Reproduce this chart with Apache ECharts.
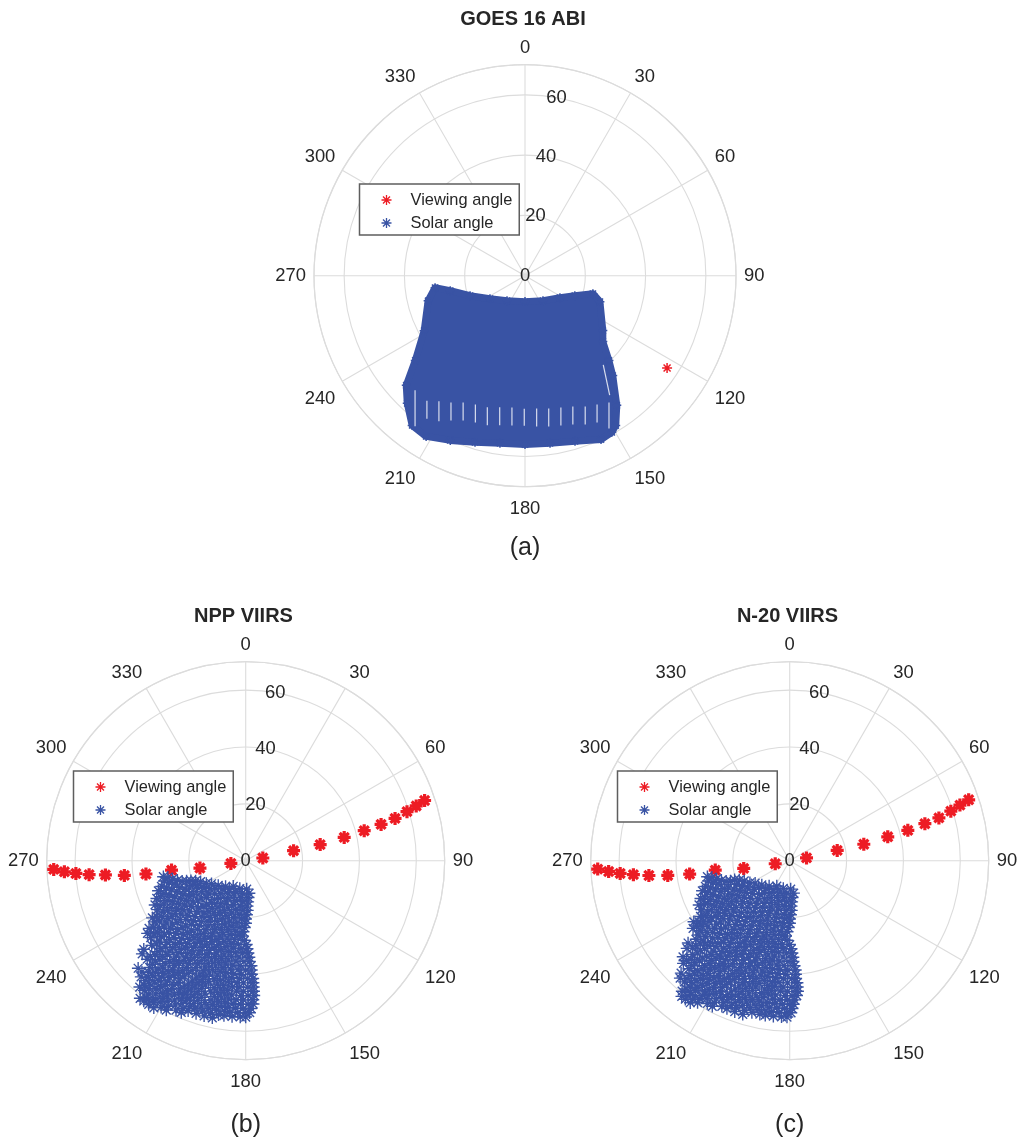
<!DOCTYPE html>
<html>
<head>
<meta charset="utf-8">
<style>html,body{margin:0;padding:0;background:#fff}#c{width:1017px;height:1137px}</style>
<script src="https://cdn.jsdelivr.net/npm/echarts@6/dist/echarts.min.js"></script>
</head>
<body>
<div id="c"></div>
<script>
// all points are [zenith angle, azimuth]
const radiusTicks = [0, 20, 40, 60];
const radiusMax = 70;
const titles = ['GOES 16 ABI', 'NPP VIIRS', 'N-20 VIIRS'];
const captions = ['(a)', '(b)', '(c)'];
const seriesNames = ['Viewing angle', 'Solar angle'];

const goesViewing = [[56.2, 123]];
const goesSolarEdge = [
  [30.1,262.4],[25.3,258.7],[19.4,250],[13.9,236.7],[10.2,215.8],[8.6,180],[10.2,144.2],[13.7,122.2],
  [17.8,111.8],[23.3,104.8],[26.3,109.1],[31.6,125.2],[33.8,130.2],[39.6,135.3],[44.1,138.7],[52.7,144.7],
  [58.1,148.8],[59.4,151],[59.9,155.1],[57.4,163.2],[56.2,171.5],[56,180],[56.2,188.5],[57.7,196.7],
  [60,204.4],[62.6,211.6],[62.2,217],[57.6,222.7],[53.6,227.3],[46,232.3],[38.1,241.4],[33.2,255.5]
];
const goesSolarGaps = [
  [57.1,219.7,36],[55.1,216.2,18],[53.3,212.4,20],[51.3,208.6,18],[49.5,204.5,18],[48.6,199.8,18],
  [48.3,195,18],[47.4,190.2,18],[46.9,185.3,18],[47,180.3,17],[47.2,175.3,18],[47.7,170.5,18],
  [48.2,165.7,18],[49,161.1,18],[50.5,156.7,18],[51.6,152.4,18],[54.1,149,26]
];
const goesSolarSlant = [[43.9, 142]];

const nppViewing = [
  [67.6,267.4],[63.9,266.5],[59.9,265.7],[55.3,264.9],[49.6,264.2],[43,263.1],[35.4,262.4],[26.3,262.8],[16.3,260.9],[5.3,259.6],
  [6.1,81],[17.2,78.2],[26.8,77.8],[35.6,76.7],[43,75.8],[49.3,75],[54.6,74.2],[59.3,73.1],[63,72.2],[66.4,71.4]
];
const n20Viewing = [
  [67.6,267.5],[63.8,266.6],[59.8,265.7],[55.2,264.9],[49.8,264],[43.2,263.1],[35.5,262.4],[26.4,262.8],[16.4,260.5],[5.2,258.1],
  [6,80.5],[17.1,77.8],[26.7,77.5],[35.5,76.3],[42.9,75.6],[49.3,74.7],[54.6,74],[59.3,72.9],[63,71.9],[66.5,71.2]
];
// each row: zenith angle, then the azimuths estimated at that zenith angle
const nppSolarRows = [
  [10,178,192,206],
  [11.5,174,186,198,210,218],
  [13,176,187,198,209,220,228],
  [14.5,177,184,195,206,217,228,236],
  [16,178,187,196,205,214,223,232,240],
  [17.5,178,183,192,201,210,219,228,237,245],
  [19,179,187,195,203,211,219,227,235,243,248],
  [20.5,180,184,192,200,207,215,222,230,238,245,250],
  [22,180,188,195,202,209,216,223,230,237,244,251],
  [23.5,181,185,192,198.5,205,212,218.5,225,232,238.5,245,252],
  [25,182,188,194,200,206,212,218,224,230,236,242,248,254],
  [26.5,182.5,186,192,198,204,210,216,222,228,234,240,246,252,256],
  [28,181,188,193.5,199,204.5,210,215.5,221,226.5,232,237.5,243,248.5,254,258],
  [29.5,179.5,185,190,195,200,205,210,215,220.5,225.5,230.5,235.5,241,246,251,256,259],
  [31,179,183,188,193,198,203,208,213,218,223,228,233,238,243,248,253],
  [32.5,178.5,182,186.5,191,195.5,200,205,209.5,214,219,223.5,228,233,237.5,242,247,251],
  [34,178,184,188.5,193,197.5,202,206.5,211,215.5,220,224.5,229,233.5,238,242.5,247],
  [35.5,178,181,185.5,190,194,198,202.5,207,211,215,219.5,224,228,232,236.5,241,244],
  [37,177,183,187,191,195,199,203,207,211,215,219,223,227,231,235,238],
  [38.5,177,180,184,188,192,196,200,204,208,212,216,220,224,228,232,236,238.5],
  [40,177,182,186,190,193,197,201,205,209,212,216,220,224,228,231,234],
  [41.5,176.5,179,183,187,190,194,198,201,205,209,212,216,220,223,227,231,235],
  [43,176.5,181,184,188,192,195,199,202,206,209,213,216,220,224,227,231,233.5],
  [44.5,176.5,179,183,186,190,193,197,200,203,207,210,214,217,221,224,228],
  [46,176.5,181,184,188,191,194,198,201,204,208,211,214,218,221,224],
  [47.5,176.5,179,182,186,189,192,195,199,202,205,209,212,215,218,222,225,229],
  [49,177,181,184,187,190,193,197,200,203,206,209,213,216,219,222,225,228],
  [50.5,177,179,182,185,188,191,194,198,201,204,207,210,213,216,219,222],
  [52,178,181,184,187,190,193,196,199,202,205,207,210,213,216,219,221],
  [53.5,178.5,180,183,186,188,191,194,197,200,203,205,208,211,214,217,220,223,225],
  [55,180,182,185,188,190,193,196,199,201,204,207,210,212,215,218,220,222],
  [56.5,192,195,198,201,203,206,209,211,214,217,219],
  [58,203,205,208,211,213,216,218,220],
  [59.5,208,210,213,215,216],
  [61,212,214,216,217.5]
];
const n20SolarRows = [
  [10,178,193,207],
  [11.5,173,185,197,209,219],
  [13,176,188,199,210,221,229],
  [14.5,177,185,196,207,218,229,237],
  [16,178,186,195,204,213,222,231,241],
  [17.5,178,184,193,202,211,220,229,238,246],
  [19,179,186,194,202,210,218,226,234,242,249],
  [20.5,180,185,193,201,208,216,223,231,239,246,251],
  [22,180,187,194,201,208,215,222,229,236,243,251],
  [23.5,181,186,193,199.5,206,213,219.5,226,233,239.5,246,252],
  [25,182,187,193,199,205,211,217,223,229,235,241,247,254],
  [26.5,183,186,192,198,204,210,216,222,228,234,240,246,252,256],
  [28,182,188,193.5,199,204.5,210,215.5,221,226.5,232,237.5,243,248.5,254,258],
  [29.5,180,185,190,195,200,205,210,215.5,220.5,226,231,236,241,246,251,256,259],
  [31,179,184,189,194,199,204,209,214,219,224,229,234,239,244,249,253],
  [32.5,178.5,182,187,191,196,200,205,209.5,214.5,219,224,228.5,233,238,242.5,247,251],
  [34,178,184,189,193,198,202,207,211,216,220,225,229,234,238,243,247],
  [35.5,178,181,186,190,194,199,203,207,211,216,220,224,228,233,237,241,244],
  [37,177.5,183,187,191,195,199,203,207,211,215,219,223,227,231,235,238],
  [38.5,177,181,185,189,193,197,201,205,209,213,217,221,225,229,233,236],
  [40,177,182,186,190,194,198,201,205,209,213,217,221,224,228,232,235,237.5],
  [41.5,177,179,183,187,191,194,198,202,205,209,213,216,220,224,227,231,235],
  [43,176.5,181,185,188,192,196,199,203,206,210,213,217,220,224,227,230],
  [44.5,176.5,179,183,187,190,194,197,201,204,207,211,214,218,221,225,228],
  [46,176.5,181,184,188,191,195,198,201,205,208,212,215,218,222,225,228,231],
  [47.5,177,179,182,186,189,192,196,199,202,206,209,212,216,219,222,226,229.5],
  [49,178,181,184,187,191,194,197,200,203,207,210,213,216,219,223,225],
  [50.5,178.5,180,183,186,189,192,195,198,201,204,208,211,214,217,220,223,226,228],
  [52,179,182,185,188,191,194,197,200,203,205,208,211,214,217,220,223,226],
  [53.5,179.5,181,184,187,189,192,195,198,201,204,206,209,212,215,218,221],
  [55,181,183,186,189,191,194,197,200,202,205,208,211,213,216,219,221,224],
  [56.5,197,200,203,205,208,211,213,216,218,221,223],
  [58,208,210,213,215,217,219],
  [59.5,213,215,217,219.5],
  [61,215,217,218.5]
];

const RED = '#ed1c24', BLUE = '#3953a4', GRID = '#dcdcdc', INK = '#262626';
const star = 'path://M0 -1L0 1M-1 0L1 0M-.7 -.7L.7 .7M-.7 .7L.7 -.7';
const rowsToPoints = rows => rows.flatMap(([r, ...az]) => az.map(t => [r, t]));

const panels = [
  {cx: 525, cy: 275.7, R: 211, tx: 523, ty: 9, capY: 536, legL: 359.5, legT: 184},
  {cx: 245.7, cy: 860.7, R: 199, tx: 243.5, ty: 606, capY: 1113, legL: 73.5, legT: 771},
  {cx: 789.7, cy: 860.7, R: 199, tx: 787.5, ty: 606, capY: 1113, legL: 617.5, legT: 771}
];

const polar = [], angleAxis = [], radiusAxis = [], title = [], legend = [];
panels.forEach((p, i) => {
  polar.push({center: [p.cx, p.cy], radius: p.R});
  angleAxis.push({
    polarIndex: i * 2, type: 'value', min: 0, max: 360, interval: 30, startAngle: 90, clockwise: true,
    axisLine: {lineStyle: {color: GRID, width: 1.2}}, axisTick: {show: false},
    splitLine: {lineStyle: {color: GRID, width: 1.1}},
    axisLabel: {margin: 8, padding: [5, 0, 0, 0], fontSize: 18.4, color: INK, fontFamily: 'Liberation Sans'}
  });
  radiusAxis.push({
    polarIndex: i * 2, type: 'value', min: 0, max: radiusMax, interval: 20,
    axisLine: {show: false}, axisTick: {show: false}, axisLabel: {show: false},
    splitLine: {show: true, lineStyle: {color: GRID, width: 1.1}}
  });
  // second polar only carries the radius labels on the ray 10 degrees past north
  polar.push({center: [p.cx, p.cy], radius: p.R});
  angleAxis.push({polarIndex: i * 2 + 1, type: 'value', min: 0, max: 360, startAngle: 80, clockwise: true, show: false});
  radiusAxis.push({
    polarIndex: i * 2 + 1, type: 'value', min: 0, max: radiusMax, interval: 20, z: 8,
    axisLine: {show: false}, axisTick: {show: false}, splitLine: {show: false},
    axisLabel: {
      margin: 0, rotate: 0, align: 'center', verticalAlign: 'middle', padding: [6, 0, 0, 0], fontSize: 18.4, color: INK,
      fontFamily: 'Liberation Sans', formatter: v => radiusTicks.includes(v) ? String(v) : ''
    }
  });
  title.push({
    text: titles[i], left: p.tx, top: p.ty, textAlign: 'center', padding: 0,
    textStyle: {fontSize: 20, fontWeight: 'bold', color: INK, fontFamily: 'Liberation Sans'}
  });
  title.push({
    text: captions[i], left: p.cx, top: p.capY, textAlign: 'center', padding: 0,
    textStyle: {fontSize: 25, fontWeight: 'normal', color: INK, fontFamily: 'Liberation Sans'}
  });
  legend.push({
    left: p.legL, top: p.legT, orient: 'vertical', data: seriesNames, align: 'left',
    padding: [8, 7, 4, 19.5], itemWidth: 38, itemHeight: 10, itemGap: 7, symbolSize: 10,
    backgroundColor: '#fff', borderColor: '#5e5e5e', borderWidth: 1.5, selectedMode: false,
    itemStyle: {borderWidth: 1.3},
    textStyle: {fontSize: 16.4, color: INK, fontFamily: 'Liberation Sans', padding: [1, 0, 0, 0]}
  });
});

const scatter = (name, polarIndex, color, data, size, width, z) => ({
  type: 'scatter', name, polarIndex, coordinateSystem: 'polar', data, symbol: star, symbolSize: size,
  itemStyle: {color: 'none', borderColor: color, borderWidth: width, opacity: 1}, z, silent: true, animation: false, clip: false
});

const hull = (polarIndex, pts) => ({
  type: 'custom', coordinateSystem: 'polar', polarIndex, data: pts, silent: true, animation: false, z: 2,
  clip: false, encode: {radius: 0, angle: 1},
  renderItem: (params, api) => params.dataIndex === 0
    ? {type: 'polygon', shape: {points: pts.map(q => api.coord(q))}, style: {fill: BLUE, stroke: BLUE, lineWidth: 7, lineJoin: 'round'}}
    : null
});

const series = [
  scatter(seriesNames[0], 0, RED, goesViewing, 10, 1.5, 3),
  hull(0, goesSolarEdge),
  scatter(seriesNames[1], 0, BLUE, goesSolarEdge, 9, 1.5, 3),
  {
    type: 'scatter', polarIndex: 0, coordinateSystem: 'polar', symbol: 'rect', silent: true, animation: false, z: 4,
    data: goesSolarGaps.map(g => ({value: [g[0], g[1]], symbolSize: [1.2, g[2]]})).concat(
      goesSolarSlant.map(g => ({value: g, symbolSize: [1.2, 31], symbolRotate: 12}))),
    itemStyle: {color: '#d8ddee', opacity: 1}
  },
  scatter(seriesNames[0], 2, RED, nppViewing, 13, 3.2, 3),
  scatter(seriesNames[1], 2, BLUE, rowsToPoints(nppSolarRows), 12.5, 1.4, 4),
  scatter(seriesNames[0], 4, RED, n20Viewing, 13, 3.2, 3),
  scatter(seriesNames[1], 4, BLUE, rowsToPoints(n20SolarRows), 12.5, 1.4, 4)
];

const chart = echarts.init(document.getElementById('c'), null, {renderer: 'canvas'});
chart.setOption({
  animation: false, backgroundColor: '#fff', textStyle: {fontFamily: 'Liberation Sans'},
  title, legend, polar, angleAxis, radiusAxis, series
});
</script>
</body>
</html>
